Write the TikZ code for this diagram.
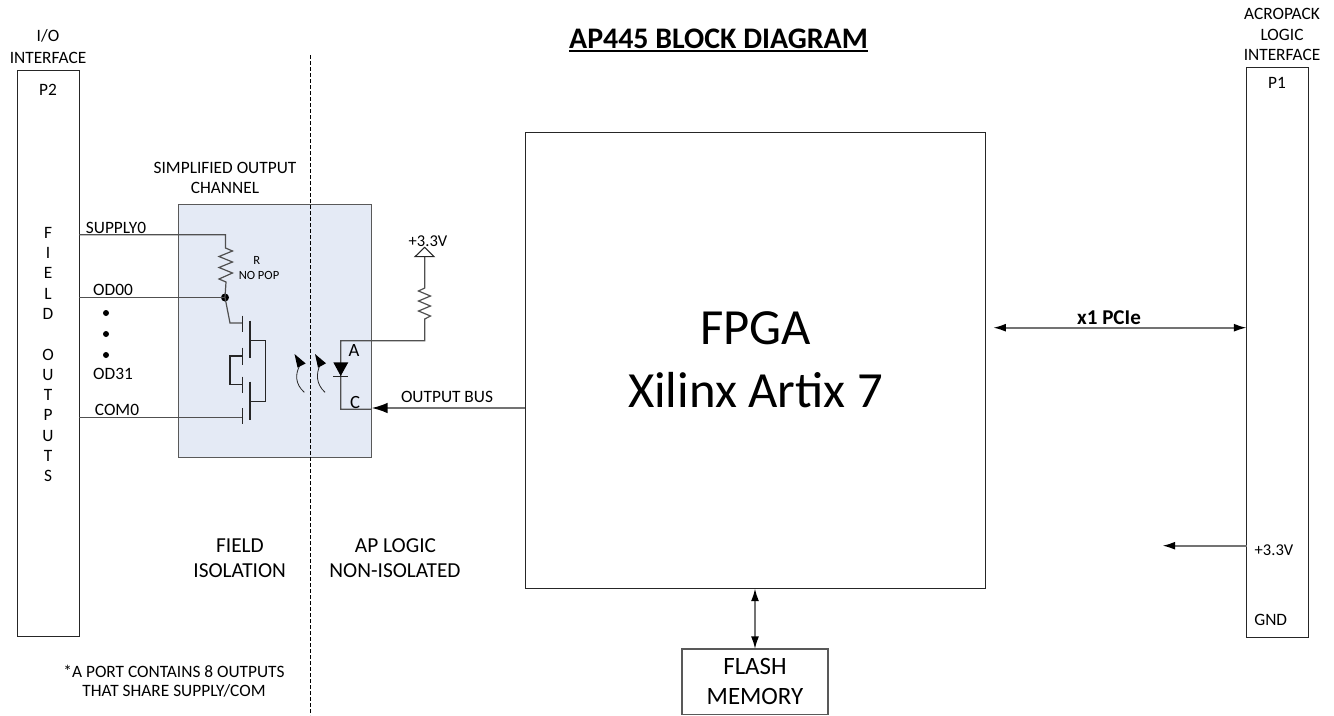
\documentclass[tikz,border=0pt]{standalone}
\usepackage{fontspec}
\setmainfont{Carlito}
\usetikzlibrary{arrows.meta}
\definecolor{wire}{HTML}{505050}
\definecolor{panel}{HTML}{E4EAF5}
\tikzset{
  x=0.75pt,y=-0.75pt,
  box/.style={draw=black!85,line width=0.65pt,fill=white,inner sep=0pt,outer sep=0pt,anchor=north west},
  wireline/.style={draw=wire,line width=0.9pt},
  thinline/.style={draw=black!85,line width=0.8pt},
  bus/.style={draw=black!55,line width=1.2pt},
  solidtip/.style={fill=black,draw=none},
  busarrow/.style={bus,-{Latex[black,length=12pt,width=8pt]}},
  smallarrow/.style={bus,-{Latex[black,length=9.5pt,width=6pt]}},
  biarrow/.style={bus,{Latex[black,length=9.5pt,width=6pt]}-{Latex[black,length=9.5pt,width=6pt]}},
  lab/.style={inner sep=0pt,font=\fontsize{13}{15}\selectfont},
  biglab/.style={inner sep=0pt,font=\fontsize{16}{19}\selectfont},
  smalllab/.style={inner sep=0pt,font=\fontsize{9.4}{11}\selectfont},
  dotnode/.style={circle,fill=black,inner sep=0pt,minimum size=#1},
}
\begin{document}
\begin{tikzpicture}
\useasboundingbox (0,0) rectangle (1334,715);
% boxes
\node[box,minimum width=46.1pt,minimum height=424.1pt] (p2) at (17.5,70.5) {};
\node[box,minimum width=46.1pt,minimum height=427.5pt] (p1) at (1246.5,67) {};
\node[box,minimum width=345pt,minimum height=342pt] (fpga) at (525,132) {};
\node[box,draw=black!65,line width=0.8pt,minimum width=109.5pt,minimum height=48.8pt] (flash) at (682,649) {};
\node[box,fill=panel,draw=black!65,line width=0.8pt,minimum width=144.4pt,minimum height=189.4pt] (chan) at (178.5,204.5) {};
% isolation barrier
\coordinate (bartop) at (310.5,55);
\coordinate (barbot) at (310.5,715);
\draw[black,line width=1.1pt,dash pattern=on 3.2pt off 1.3pt] (bartop) -- (barbot);
% coordinates of the output channel
\coordinate (sup) at (79,234.7);
\coordinate (supc) at (225.5,234.7);
\coordinate (od) at (79,297.5);
\node[dotnode=6pt] (jn) at (225,297.5) {};
\coordinate (com) at (79,417.7);
\coordinate (g3) at (242.3,417.7);
\coordinate (g1) at (242.3,323);
\coordinate (g1k) at (230,323);
% wires
\draw[wireline] (sup) -- (supc) -- (225.5,248)
  -- (232.5,251) -- (219,256.5) -- (232.5,262) -- (219,267.5) -- (232.5,273) -- (219,279) -- (226,282) -- (jn.center);
\draw[wireline] (od) -- (jn.center);
\draw[wireline] (jn.center) -- (g1k) -- (g1);
\draw[wireline] (com) -- (g3);
% transistors
\draw[thinline] (242.3,315.7) -- (242.3,331.7);
\draw[thinline] (250,320.7) -- (250,358);
\draw[thinline] (242.3,347.7) -- (242.3,365);
\draw[thinline] (242.3,376.7) -- (242.3,392.7);
\draw[thinline] (250,381.7) -- (250,419.7);
\draw[thinline] (242.3,408.3) -- (242.3,424.3);
\draw[thinline] (250,340.3) -- (265.7,340.3) -- (265.7,401.7) -- (250,401.7);
\draw[thinline] (242.3,356) -- (230,356) -- (230,384.7) -- (242.3,384.7);
% light arrows
\draw[thinline,line width=0.6pt] (304.3,392.3) .. controls (295,384) and (295,374) .. (300,365);
\fill[solidtip] (294.5,354) -- (305.7,363.5) -- (297.5,367.5) -- cycle;
\draw[thinline,line width=0.6pt] (325,392.3) .. controls (316,384) and (316,374) .. (320,365);
\fill[solidtip] (315,354) -- (326,363.3) -- (318,367.7) -- cycle;
% LED
\coordinate (ledA) at (340.7,340.7);
\coordinate (ledC) at (340.7,409.3);
\coordinate (chanC) at (371,409.3);
\coordinate (rtop) at (424.7,288);
\coordinate (rbot) at (424.7,319);
\coordinate (rA) at (424.7,340.7);
\coordinate (vtop) at (424.7,256.7);
\draw[wireline] (chanC) -- (ledC) -- (ledA) -- (rA) -- (rbot)
  -- (430.5,316) -- (418.5,311) -- (430.5,306) -- (418.5,301) -- (430.5,296) -- (418.5,291) -- (rtop) -- (vtop);
\fill[solidtip] (333.3,362.3) -- (348.3,362.3) -- (340.7,376) -- cycle;
\draw[thinline] (333.3,376.3) -- (348.3,376.3);
\draw[thinline,fill=white] (415,256.7) -- (434,256.7) -- (424.7,247.3) -- cycle;
% bus connections
\coordinate (pcieL) at (993.3,327.7);
\coordinate (v33tip) at (1162.5,545.7);
\coordinate (busTip) at (371.7,408);
\draw[busarrow] (fpga.west |- busTip) -- (busTip);
\draw[biarrow] (pcieL) -- (p1.west |- pcieL);
\coordinate (flTop) at (755,588.5);
\draw[biarrow] (flTop) -- (flash.north -| flTop);
\draw[smallarrow] (p1.west |- v33tip) -- (v33tip);
% text
\node[inner sep=0pt,font=\fontsize{22.4}{26}\bfseries\selectfont] (title) at (718.5,39) {AP445 BLOCK DIAGRAM};
\coordinate (ulY) at (0,50.7);
\draw[black,line width=1.3pt] (title.west |- ulY) -- (title.east |- ulY);
\node[lab] (t1) at (48,36) {I/O};
\node[lab] (t2) at (48,58) {INTERFACE};
\node[lab] (t3) at (48,90) {P2};
\node[lab] (t4) at (225,168) {SIMPLIFIED OUTPUT};
\node[lab] (t5) at (225,188) {CHANNEL};
\node[lab,align=center,font=\fontsize{13}{15.2}\selectfont] (t6) at (48,354.5) {F\\I\\E\\L\\D\\[0pt] \\O\\U\\T\\P\\U\\T\\S};
\node[lab] (t7) at (116,227.7) {SUPPLY0};
\node[lab] (t8) at (113,290) {OD00};
\node[dotnode=4.5pt] (d1) at (106,313) {};
\node[dotnode=4.5pt] (d2) at (106,334) {};
\node[dotnode=4.5pt] (d3) at (106,355) {};
\node[lab] (t9) at (113,373.7) {OD31};
\node[lab] (t10) at (117,410) {COM0};
\node[smalllab] (t11) at (256.7,260) {R};
\node[smalllab] (t12) at (259,275) {NO POP};
\node[lab,font=\fontsize{14}{16}\selectfont] (t13) at (354,351) {A};
\node[lab,font=\fontsize{14}{16}\selectfont] (t14) at (355,402) {C};
\node[lab,font=\fontsize{12.4}{15}\selectfont] (t15) at (428,241) {+3.3V};
\node[lab] (t16) at (447,397) {OUTPUT BUS};
\node[inner sep=0pt,font=\fontsize{38}{42}\selectfont] (t17) at (755.5,328) {FPGA};
\node[inner sep=0pt,font=\fontsize{38}{42}\selectfont] (t18) at (755.5,390) {Xilinx Artix 7};
\node[inner sep=0pt,font=\fontsize{15.8}{18}\bfseries\selectfont] (t19) at (1109,318) {x1 PCIe};
\node[biglab] (t20) at (240,545.7) {FIELD};
\node[biglab] (t21) at (239.7,570.7) {ISOLATION};
\node[biglab] (t22) at (395.5,545.7) {AP LOGIC};
\node[biglab] (t23) at (395,570.7) {NON-ISOLATED};
\node[lab] (t24) at (174,671) {*A PORT CONTAINS 8 OUTPUTS};
\node[lab] (t25) at (174,691) {THAT SHARE SUPPLY/COM};
\node[lab] (t26) at (1282,14) {ACROPACK};
\node[lab] (t27) at (1282,35) {LOGIC};
\node[lab] (t28) at (1282,55) {INTERFACE};
\node[lab] (t29) at (1277,83) {P1};
\node[lab,font=\fontsize{12.4}{15}\selectfont] (t30) at (1274,550) {+3.3V};
\node[lab] (t31) at (1270.7,620) {GND};
\node[inner sep=0pt,font=\fontsize{18.7}{22}\selectfont] (t32) at (755,666.7) {FLASH};
\node[inner sep=0pt,font=\fontsize{18.7}{22}\selectfont] (t33) at (755,696.7) {MEMORY};
\end{tikzpicture}
\end{document}
